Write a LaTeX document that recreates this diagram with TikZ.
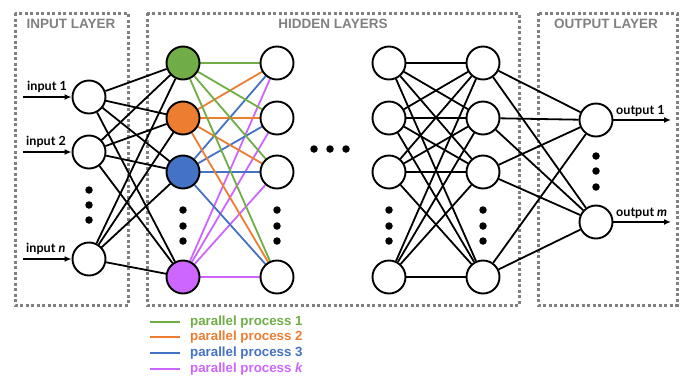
\documentclass[tikz,border=0pt]{standalone}
\usepackage{fontspec}
\setmainfont{Liberation Sans}
\newfontfamily\lato{Lato}
\usetikzlibrary{arrows.meta}
\definecolor{cg}{HTML}{70AD47}
\definecolor{co}{HTML}{ED7D31}
\definecolor{cb}{HTML}{4472C4}
\definecolor{cp}{HTML}{CC66FF}
\definecolor{boxgray}{HTML}{808080}
\pgfdeclarelayer{bg}
\pgfdeclarelayer{edges}
\pgfsetlayers{bg,edges,main}
\tikzset{
  neuron/.style={circle,draw=black,line width=1.9pt,fill=white,minimum size=33pt,inner sep=0pt},
  layerbox/.style={draw=boxgray,line width=3pt,dash pattern=on 3pt off 2.5pt},
  title/.style={text=boxgray,font=\fontsize{13.5}{15}\selectfont\bfseries},
  lbl/.style={font=\lato\fontsize{12.6}{14}\selectfont\bfseries,inner sep=0pt},
  conn/.style={line width=1.8pt},
  dotc/.style={circle,fill=black,minimum size=7.5pt,inner sep=0pt},
  arr/.style={line width=1.8pt,-{Latex[length=7pt,width=6pt]}},
  leg/.style={font=\fontsize{13.3}{15}\selectfont\bfseries,anchor=west,inner sep=0pt}
}
\begin{document}
\begin{tikzpicture}[x=1pt,y=-1pt]
\useasboundingbox (0,0) rectangle (686,376);
% boxes
\begin{pgfonlayer}{bg}
\draw[layerbox] (15,13) rectangle (128,305);
\draw[layerbox] (147,13) rectangle (519,305);
\draw[layerbox] (538,13) rectangle (677,305);
\end{pgfonlayer}
\node[title] (tin) at (71,24) {INPUT LAYER};
\node[title] (thid) at (333,24) {HIDDEN LAYERS};
\node[title] (tout) at (606,24) {OUTPUT LAYER};
% input layer
\node[neuron] (i1) at (89,97) {};
\node[neuron] (i2) at (89,152) {};
\node[neuron] (i3) at (89,259) {};
\foreach \y/\n in {190/a,205/b,220/c} \node[dotc] (id\n) at (89,\y) {};
% hidden 1
\node[neuron,fill=cg] (a1) at (183,63) {};
\node[neuron,fill=co] (a2) at (183,118) {};
\node[neuron,fill=cb] (a3) at (183,172) {};
\node[neuron,fill=cp] (a4) at (183,277) {};
\foreach \y/\n in {210/a,226/b,241/c} \node[dotc] (ad\n) at (183,\y) {};
% hidden 2
\foreach \y/\n in {63/1,118/2,172/3,277/4} \node[neuron] (b\n) at (277,\y) {};
\foreach \y/\n in {210/a,226/b,241/c} \node[dotc] (bd\n) at (277,\y) {};
% middle ellipsis
\foreach \x/\n in {314/a,330/b,346/c} \node[dotc] (md\n) at (\x,149) {};
% hidden 3
\foreach \y/\n in {63/1,118/2,172/3,277/4} \node[neuron] (c\n) at (389,\y) {};
\foreach \y/\n in {210/a,226/b,241/c} \node[dotc] (cd\n) at (389,\y) {};
% hidden 4
\foreach \y/\n in {63/1,118/2,172/3,277/4} \node[neuron] (d\n) at (483,\y) {};
\foreach \y/\n in {210/a,226/b,241/c} \node[dotc] (dd\n) at (483,\y) {};
% output
\node[neuron] (o1) at (596,120) {};
\node[neuron] (o2) at (596,222) {};
\foreach \y/\n in {156/a,171/b,187/c} \node[dotc] (od\n) at (596,\y) {};
% input arrows
\coordinate (ia1) at (23,97);
\coordinate (ia2) at (23,152);
\coordinate (ia3) at (23,259);
\draw[arr] (ia1) -- (i1);
\draw[arr] (ia2) -- (i2);
\draw[arr] (ia3) -- (i3);
\node[lbl,anchor=base west] (l1) at (27,90) {input 1};
\node[lbl,anchor=base west] (l2) at (26,145) {input 2};
\node[lbl,anchor=base west] (l3) at (26,252) {input \textit{n}};
% output arrows
\coordinate (oa1) at (671,120);
\coordinate (oa2) at (671,222);
\draw[arr] (o1) -- (oa1);
\draw[arr] (o2) -- (oa2);
\node[lbl,anchor=base west] (lo1) at (616,114) {output 1};
\node[lbl,anchor=base west] (lo2) at (616,216) {output \textit{m}};
% edges
\begin{pgfonlayer}{edges}
\foreach \i in {1,2,3} \foreach \j in {1,2,3,4} \draw[conn] (i\i) -- (a\j);
\foreach \j in {1,2,3,4} {
  \draw[conn,cg] (a1) -- (b\j);
  \draw[conn,co] (a2) -- (b\j);
  \draw[conn,cb] (a3) -- (b\j);
  \draw[conn,cp] (a4) -- (b\j);
}
\foreach \i in {1,2,3,4} \foreach \j in {1,2,3,4} \draw[conn] (c\i) -- (d\j);
\foreach \i in {1,2,3,4} \foreach \j in {1,2} \draw[conn] (d\i) -- (o\j);
\end{pgfonlayer}
% legend
\coordinate (g1a) at (150,322); \coordinate (g1b) at (180,322);
\coordinate (g2a) at (150,337); \coordinate (g2b) at (180,337);
\coordinate (g3a) at (150,353); \coordinate (g3b) at (180,353);
\coordinate (g4a) at (150,369); \coordinate (g4b) at (180,369);
\draw[conn,cg] (g1a) -- (g1b);
\draw[conn,co] (g2a) -- (g2b);
\draw[conn,cb] (g3a) -- (g3b);
\draw[conn,cp] (g4a) -- (g4b);
\node[leg,text=cg] (t1) at (190,322) {parallel process 1};
\node[leg,text=co] (t2) at (190,337) {parallel process 2};
\node[leg,text=cb] (t3) at (190,353) {parallel process 3};
\node[leg,text=cp] (t4) at (190,369) {parallel process \textit{k}};
\end{tikzpicture}
\end{document}
